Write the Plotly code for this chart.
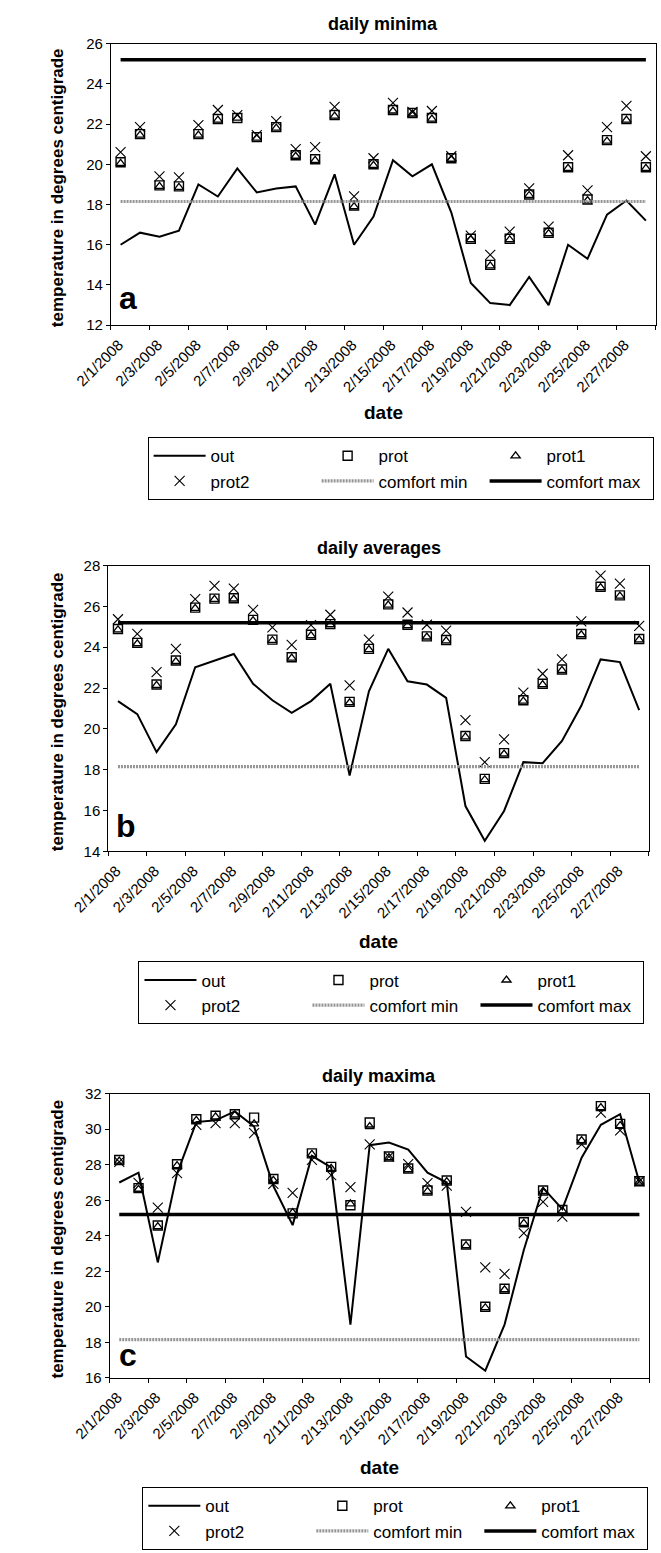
import plotly.graph_objects as go

W, H = 661, 1553
FONT = "Liberation Sans, Arial, Helvetica, sans-serif"

# ---- data -------------------------------------------------------------
dates = ["2/1/2008", "2/2/2008", "2/3/2008", "2/4/2008", "2/5/2008", "2/6/2008", "2/7/2008",
         "2/8/2008", "2/9/2008", "2/10/2008", "2/11/2008", "2/12/2008", "2/13/2008", "2/14/2008",
         "2/15/2008", "2/16/2008", "2/17/2008", "2/18/2008", "2/19/2008", "2/20/2008", "2/21/2008",
         "2/22/2008", "2/23/2008", "2/24/2008", "2/25/2008", "2/26/2008", "2/27/2008", "2/28/2008"]
day = list(range(len(dates)))

COMFORT_MIN = 18.15
COMFORT_MAX = 25.2

# daily minima
min_out = [16.0, 16.6, 16.4, 16.7, 19.0, 18.4, 19.8, 18.6, 18.8, 18.9, 17.0, 19.5, 16.0, 17.4,
           20.2, 19.4, 20.0, 17.6, 14.1, 13.1, 13.0, 14.4, 13.0, 16.0, 15.3, 17.5, 18.2, 17.2]
min_prot = [20.1, 21.5, 18.95, 18.9, 21.5, 22.25, 22.3, 21.35, 21.85, 20.45, 20.25, 22.45, 17.95, 20.0,
            22.7, 22.55, 22.3, 20.3, 16.3, 15.0, 16.3, 18.5, 16.6, 19.85, 18.25, 21.2, 22.25, 19.85]
min_prot1 = [20.05, 21.45, 18.9, 18.85, 21.45, 22.2, 22.3, 21.3, 21.8, 20.4, 20.2, 22.4, 17.9, 19.95,
             22.65, 22.5, 22.25, 20.25, 16.25, 14.95, 16.25, 18.45, 16.55, 19.8, 18.2, 21.15, 22.2, 19.8]
min_prot2 = [20.6, 21.85, 19.4, 19.35, 21.95, 22.7, 22.45, 21.45, 22.15, 20.75, 20.85, 22.85, 18.4, 20.3,
             23.05, 22.6, 22.65, 20.4, 16.45, 15.5, 16.65, 18.8, 16.9, 20.45, 18.7, 21.85, 22.9, 20.4]

# daily averages
avg_out = [21.36, 20.72, 18.86, 20.22, 23.02, 23.35, 23.67, 22.21, 21.4, 20.79, 21.36, 22.21, 17.72, 21.84,
           23.92, 22.33, 22.17, 21.52, 16.22, 14.52, 15.98, 18.37, 18.32, 19.41, 21.13, 23.4, 23.27, 20.92]
avg_prot = [24.89, 24.21, 22.17, 23.35, 25.94, 26.38, 26.4, 25.34, 24.37, 23.51, 24.61, 25.13, 21.32, 23.92,
            26.1, 25.1, 24.53, 24.35, 19.65, 17.55, 18.81, 21.4, 22.21, 22.91, 24.65, 26.96, 26.54, 24.4]
avg_prot1 = [24.85, 24.17, 22.13, 23.3, 25.9, 26.34, 26.36, 25.3, 24.33, 23.47, 24.57, 25.1, 21.28, 23.88,
             26.06, 25.06, 24.5, 24.31, 19.61, 17.51, 18.77, 21.36, 22.17, 22.87, 24.61, 26.92, 26.5, 24.36]
avg_prot2 = [25.37, 24.65, 22.78, 23.92, 26.35, 27.0, 26.87, 25.83, 24.97, 24.11, 25.08, 25.59, 22.13, 24.37,
             26.48, 25.7, 25.1, 24.81, 20.43, 18.37, 19.49, 21.78, 22.7, 23.4, 25.26, 27.51, 27.11, 25.05]

# daily maxima
max_out = [27.0, 27.55, 22.5, 27.5, 30.4, 30.5, 31.0, 30.15, 26.8, 24.6, 28.5, 27.85, 19.0, 29.1,
           29.25, 28.85, 27.55, 27.0, 17.2, 16.4, 19.0, 23.2, 26.7, 25.5, 28.4, 30.25, 30.85, 27.0]
max_prot = [28.27, 26.68, 24.58, 28.03, 30.56, 30.76, 30.84, 30.65, 27.2, 25.26, 28.64, 27.88, 25.72, 30.38,
            28.46, 27.79, 26.55, 27.11, 23.51, 20.0, 21.02, 24.76, 26.55, 25.45, 29.42, 31.3, 30.3, 27.07]
max_prot1 = [28.2, 26.62, 24.52, 27.95, 30.5, 30.7, 30.8, 30.3, 27.12, 25.3, 28.58, 27.8, 25.8, 30.15,
             28.4, 27.72, 26.5, 27.05, 23.45, 19.95, 20.96, 24.7, 26.5, 25.4, 29.36, 31.22, 30.2, 27.02]
max_prot2 = [28.16, 26.98, 25.58, 27.53, 30.25, 30.34, 30.34, 29.78, 26.92, 26.42, 28.27, 27.42, 26.74, 29.14,
             28.46, 28.03, 26.96, 26.83, 25.35, 22.22, 21.85, 24.15, 25.91, 25.08, 29.14, 30.93, 29.93, 27.07]

# ---- panel layout (pixel boxes: left, top, right, bottom) --------------
panels = [
    dict(name="daily minima", letter="a", series=(min_out, min_prot, min_prot1, min_prot2),
         yr=(12, 26), box=(77.3, 35.0, 655.3, 319.7), title_y=15, date_y=408,
         legend_at=(116.3, 433.0), letter_at=(95, 292)),
    dict(name="daily averages", letter="b", series=(avg_out, avg_prot, avg_prot1, avg_prot2),
         yr=(14, 28), box=(74.6, 562.7, 648.1, 851.7), title_y=545, date_y=943,
         legend_at=(106.6, 963.0), letter_at=(93, 826)),
    dict(name="daily maxima", letter="c", series=(max_out, max_prot, max_prot1, max_prot2),
         yr=(16, 32), box=(76.0, 1096.7, 648.3, 1384.0), title_y=1079, date_y=1475,
         legend_at=(110.7, 1494.6), letter_at=(95, 1361)),
]


def px_x(v):
    return v / W


def px_y(v):
    return 1 - v / H


fig = go.Figure()
annotations = []

tick_pos = [d - 0.5 for d in day[::2]] + [day[-1] + 0.5]
tick_txt = dates[::2] + [""]

for i, p in enumerate(panels, start=1):
    sfx = "" if i == 1 else str(i)
    xa, ya = "x" + sfx, "y" + sfx
    leg = "legend" + sfx
    out, prot, prot1, prot2 = p["series"]

    fig.add_trace(go.Scatter(x=day, y=out, name="out", mode="lines", xaxis=xa, yaxis=ya,
                             line=dict(color="black", width=2), legend=leg))
    fig.add_trace(go.Scatter(x=day, y=prot, name="prot", mode="markers", xaxis=xa, yaxis=ya,
                             marker=dict(symbol="square-open", size=9, color="black",
                                         line=dict(width=1.4)), legend=leg))
    fig.add_trace(go.Scatter(x=day, y=prot1, name="prot1", mode="markers", xaxis=xa, yaxis=ya,
                             marker=dict(symbol="triangle-up-open", size=8, color="black",
                                         line=dict(width=1.3)), legend=leg))
    fig.add_trace(go.Scatter(x=day, y=prot2, name="prot2", mode="markers", xaxis=xa, yaxis=ya,
                             marker=dict(symbol="x-thin-open", size=10, color="black",
                                         line=dict(width=1.1)), legend=leg))
    fig.add_trace(go.Scatter(x=[day[0], day[-1]], y=[COMFORT_MIN, COMFORT_MIN], name="comfort min",
                             mode="lines", xaxis=xa, yaxis=ya,
                             line=dict(color="#959595", width=3.2, dash="2px,1px"), legend=leg))
    fig.add_trace(go.Scatter(x=[day[0], day[-1]], y=[COMFORT_MAX, COMFORT_MAX], name="comfort max",
                             mode="lines", xaxis=xa, yaxis=ya,
                             line=dict(color="black", width=3.5), legend=leg))

    l, t, r, b = p["box"]
    axis_common = dict(showline=True, linecolor="black", linewidth=1, mirror=True,
                       ticks="outside", ticklen=4, tickcolor="black", tickwidth=1,
                       showgrid=False, zeroline=False,
                       tickfont=dict(family=FONT, size=15, color="black"))
    fig.update_layout({
        "xaxis" + sfx: dict(axis_common, domain=[px_x(l), px_x(r)], anchor=ya,
                            range=[-0.5, day[-1] + 0.5], tickmode="array",
                            tickvals=tick_pos, ticktext=tick_txt, tickangle=-45,
                            ticklabelshift=8),
        "yaxis" + sfx: dict(axis_common, domain=[px_y(b), px_y(t)], anchor=xa,
                            range=list(p["yr"]), dtick=2, tick0=0),
        leg: dict(orientation="h", x=px_x(p["legend_at"][0]), y=px_y(p["legend_at"][1]),
                  xanchor="left", yanchor="top", bordercolor="black", borderwidth=1,
                  bgcolor="white", entrywidth=101, itemwidth=52, traceorder="normal",
                  font=dict(family=FONT, size=17, color="black")),
    })

    cx = (l + r) / 2
    annotations += [
        dict(text=p["name"], x=px_x(cx), y=px_y(p["title_y"]), xref="paper", yref="paper",
             showarrow=False, xanchor="center", yanchor="middle",
             font=dict(family=FONT, size=18, color="black", weight="bold")),
        dict(text="date", x=px_x(cx), y=px_y(p["date_y"]), xref="paper", yref="paper",
             showarrow=False, xanchor="center", yanchor="middle",
             font=dict(family=FONT, size=19, color="black", weight="bold")),
        dict(text="temperature in degrees centigrade", x=px_x(21), y=px_y((t + b) / 2 + 3),
             xref="paper", yref="paper", showarrow=False, textangle=-90,
             xanchor="center", yanchor="middle",
             font=dict(family=FONT, size=17, color="black", weight="bold")),
        dict(text=p["letter"], x=px_x(p["letter_at"][0]), y=px_y(p["letter_at"][1]),
             xref="paper", yref="paper", showarrow=False, xanchor="center", yanchor="middle",
             font=dict(family=FONT, size=32, color="black", weight="bold")),
    ]

fig.update_layout(width=W, height=H, margin=dict(l=0, r=0, t=0, b=0),
                  paper_bgcolor="white", plot_bgcolor="white",
                  annotations=annotations, showlegend=True)

fig.write_html("out.html")
